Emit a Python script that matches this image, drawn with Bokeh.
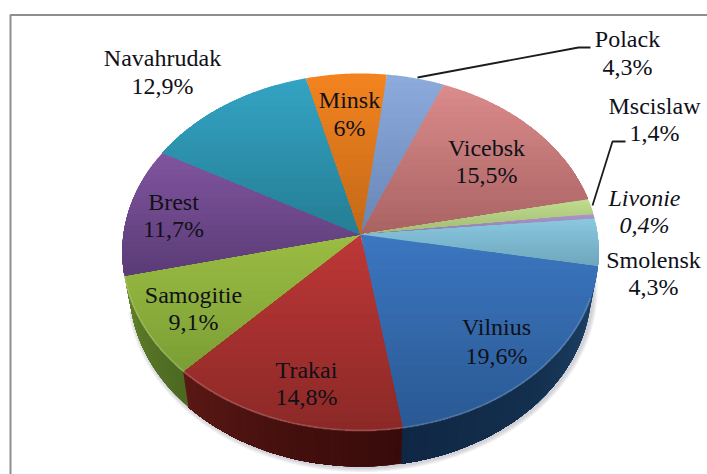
import numpy as np
from bokeh.embed import file_html
from bokeh.resources import INLINE
from bokeh.plotting import figure
from bokeh.models import Range1d
from bokeh.core.properties import value

# ---------- data ----------
regions = ["Polack", "Vicebsk", "Mscislaw", "Livonie", "Smolensk", "Vilnius",
           "Trakai", "Samogitie", "Brest", "Navahrudak", "Minsk"]
shares = [4.3, 15.5, 1.4, 0.4, 4.3, 19.6, 14.8, 9.1, 11.7, 12.9, 6]

# ---------- styles ----------
top_colors = ["#8cabdc", "#da8b8b", "#bfdb8e", "#ab95cb", "#88c8df", "#3b76bf",
              "#bd3737", "#9abc42", "#80549e", "#33a3c3", "#f2831f"]
bottom_colors = ["#6786b6", "#aa6363", "#a2bc74", "#8f7bab", "#6fa6bd", "#2a5994",
                 "#8c2927", "#7c9f35", "#5b3c77", "#257e95", "#c46918"]
wall_colors = {"Vilnius": ["#1f466b", "#14304f", "#0f2744"],
               "Trakai": ["#380b0b", "#45100e", "#5a1814"],
               "Samogitie": ["#4c6821", "#567426", "#648529"]}
name_pos = {"Polack": (627, 38), "Vicebsk": (486, 147), "Mscislaw": (654, 105),
            "Livonie": (644, 197), "Smolensk": (653, 259), "Vilnius": (496, 326),
            "Trakai": (306, 369), "Samogitie": (193, 294), "Brest": (173, 201),
            "Navahrudak": (162, 57), "Minsk": (349, 99)}
LINE_GAP = {"Polack": 28, "Navahrudak": 28, "Minsk": 28, "Vilnius": 29}
FONT = "Liberation Serif, Times New Roman, serif"
SIZE = "24px"

# ---------- projection of the tilted disc ----------
CX, CY = 360, 234          # where the slices meet, in page pixels
A, B, K = 237, 176.8, 0.098  # perspective disc
START = 7.0                # degrees clockwise from twelve o'clock
DEPTH, INSET = 36, 0.97


def project(deg):
    t = np.radians(np.asarray(deg, dtype=float))
    u, v = np.sin(t), np.cos(t)
    d = 1 + K * v
    return CX + A * u / d, CY - B * v / d


def lower(deg):
    x, y = project(deg)
    return CX + (x - CX) * INSET, y + DEPTH


def hex_rgb(c):
    return np.array([int(c[i:i + 2], 16) for i in (1, 3, 5)], dtype=float)


def mix(c0, c1, f):
    r = hex_rgb(c0) * (1 - f) + hex_rgb(c1) * f
    return "#%02x%02x%02x" % tuple(int(round(x)) for x in r)


def clip_below(xs, ys, y0):
    """keep the part of a polygon whose page y is at least y0"""
    ox, oy = [], []
    n = len(xs)
    for i in range(n):
        x1, y1, x2, y2 = xs[i], ys[i], xs[(i + 1) % n], ys[(i + 1) % n]
        if y1 >= y0:
            ox.append(x1)
            oy.append(y1)
        if (y1 >= y0) != (y2 >= y0):
            f = (y0 - y1) / (y2 - y1)
            ox.append(x1 + f * (x2 - x1))
            oy.append(y0)
    return ox, oy


p = figure(width=707, height=474, output_backend="svg", toolbar_location=None,
           x_range=Range1d(0, 707), y_range=Range1d(474, 0), min_border=0)
p.axis.visible = False
p.grid.visible = False
p.outline_line_color = None
p.background_fill_color = "white"

# frame of the figure
p.line([707, 10, 10], [14.5, 14.5, 474], line_color="#8e8e8e", line_width=2)

# slice boundaries
edges = START + np.cumsum([0] + shares) * 3.6
bounds = dict(zip(regions, zip(edges[:-1], edges[1:])))

# soft shadow under the wall
arc = np.arange(bounds["Vilnius"][0] - 8, bounds["Samogitie"][1] + 1, 1.0)
sx, sy = lower(arc)
for w in (9, 6, 3):
    p.line(sx + 1.5, sy + 1, line_color="#505060", line_alpha=0.09, line_width=w)

# wall: each step paints the rest of its stretch, so no seams appear
wx, wy, wc = [], [], []
for name, cols in wall_colors.items():
    a0, a1 = bounds[name]
    steps = np.linspace(a0, a1, int((a1 - a0) / 1.5) + 2)
    for i in range(len(steps) - 1):
        aa = steps[i:]
        tx, ty = project(aa)
        lx, ly = lower(aa)
        f = (i + 0.5) / (len(steps) - 1)
        c = mix(cols[0], cols[1], f * 2) if f < 0.5 else mix(cols[1], cols[2], f * 2 - 1)
        wx.append(tx.tolist() + lx[::-1].tolist())
        wy.append(ty.tolist() + ly[::-1].tolist())
        wc.append(c)
p.patches(wx, wy, fill_color=wc, line_color=None)

# top surface, each slice shaded from top to bottom
BANDS = 22
sxs, sys, scs = [], [], []
for i, name in enumerate(regions):
    a0, a1 = bounds[name]
    aa = np.linspace(a0, a1, max(3, int(a1 - a0) * 2))
    ax, ay = project(aa)
    xs = [float(CX)] + ax.tolist()
    ys = [float(CY)] + ay.tolist()
    y0, y1 = min(ys), max(ys)
    for k in range(BANDS):
        f = k / (BANDS - 1)
        cx_, cy_ = clip_below(xs, ys, y0 + (y1 - y0) * k / BANDS)
        if len(cx_) >= 3:
            sxs.append(cx_)
            sys.append(cy_)
            scs.append(mix(top_colors[i], bottom_colors[i], f))
p.patches(sxs, sys, fill_color=scs, line_color=None)

# light bevel on the front rim
arc2 = np.arange(bounds["Vilnius"][0] + 10, bounds["Samogitie"][1] + 1, 1.0)
rx, ry = project(arc2)
p.line(rx, ry, line_color="white", line_alpha=0.16, line_width=2)

# leader lines
p.line([417, 578, 590], [77, 47, 47], line_color="#1c1c1c", line_width=1.8)
p.line([592, 612, 625], [205, 141, 141], line_color="#1c1c1c", line_width=1.8)

# labels
for name, val in zip(regions, shares):
    x, y = name_pos[name]
    style = "italic" if name == "Livonie" else "normal"
    gap = LINE_GAP.get(name, 27)
    for text, ty in ((name, y), (f"{val:g}%".replace(".", ","), y + gap)):
        p.text([x], [ty], text=[text], text_align="center", text_baseline="alphabetic",
               text_font=value(FONT), text_font_size=value(SIZE), text_font_style=style,
               text_color="#101018")

open("out.html", "w").write(file_html(p, INLINE))
